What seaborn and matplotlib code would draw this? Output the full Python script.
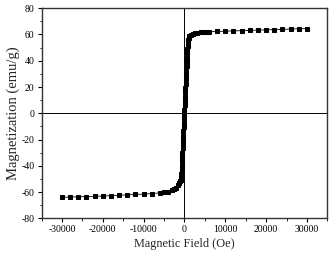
import numpy as np
import pandas as pd
import matplotlib
matplotlib.use("Agg")
import matplotlib.pyplot as plt
from matplotlib.ticker import MultipleLocator
import seaborn as sns

# hysteresis loop (field in Oe, magnetization in emu/g)
field_neg = [-30000, -28000, -26000, -24000, -22000, -20000, -18000, -16000,
             -14000, -12000, -10000, -8000, -6000, -5000, -4000, -3000, -2500,
             -2000, -1600, -1300, -1100, -950, -850]
mag_neg = [-64.0, -63.8, -63.6, -63.4, -63.2, -63.0, -62.7, -62.4,
           -62.1, -61.8, -61.5, -61.1, -60.6, -60.2, -59.6, -58.6, -57.8,
           -56.6, -54.6, -53.0, -51.8, -51.0, -50.3]

field_mid = [-800, -750, -700, -650, -600, -550, -500, -450, -400, -350, -300,
             -250, -200, -150, -100, -50, 0, 50, 100, 150, 200, 250, 300, 350,
             400, 450, 500, 550, 600, 650, 700]
mag_mid = [-49.5, -46.3, -43.0, -39.8, -36.5, -33.3, -30.0, -26.8, -23.5,
           -20.3, -17.0, -13.7, -10.4, -7.1, -3.8, -0.5, 2.8, 6.1, 9.4, 12.7,
           16.0, 19.3, 22.6, 25.9, 29.2, 32.5, 35.8, 39.1, 42.4, 45.7, 49.0]

field_pos = [750, 800, 900, 1000, 1200, 1500, 2000, 2500, 3000, 4000, 5000,
             6000, 8000, 10000, 12000, 14000, 16000, 18000, 20000, 22000,
             24000, 26000, 28000, 30000]
mag_pos = [51.5, 53.5, 55.8, 57.4, 58.9, 59.8, 60.5, 60.9, 61.2, 61.6, 61.8,
           62.0, 62.3, 62.5, 62.7, 62.9, 63.1, 63.3, 63.5, 63.7,
           63.9, 64.1, 64.3, 64.5]

df = pd.DataFrame({
    "field": field_neg + field_mid + field_pos,
    "mag": mag_neg + mag_mid + mag_pos,
})

sns.set_style("ticks")
plt.rcParams["font.family"] = ["Liberation Serif", "DejaVu Serif"]
plt.rcParams["axes.unicode_minus"] = False

fig = plt.figure(figsize=(3.3, 2.56), dpi=100)
ax = fig.add_axes([0.126, 0.147, 0.866, 0.821])

ax.axhline(0, color="black", lw=0.7, zorder=1)
ax.axvline(0, color="black", lw=0.7, zorder=1)

sns.lineplot(data=df, x="field", y="mag", ax=ax, sort=False,
             color="black", lw=0.6, marker="s", markersize=3.1,
             markeredgecolor="black", zorder=3)

ax.set_xlim(-35000, 35000)
ax.set_ylim(-80, 80)
ax.xaxis.set_major_locator(MultipleLocator(10000))
ax.xaxis.set_minor_locator(MultipleLocator(5000))
ax.yaxis.set_major_locator(MultipleLocator(20))
ax.yaxis.set_minor_locator(MultipleLocator(10))
ax.set_xticks([-30000, -20000, -10000, 0, 10000, 20000, 30000])

ax.tick_params(which="major", direction="out", length=3, width=0.8,
               labelsize=7, pad=2, colors="black")
ax.tick_params(which="minor", direction="out", length=1.8, width=0.7)

for s in ax.spines.values():
    s.set_color("#333333")
    s.set_linewidth(1.0)

ax.set_xlabel("Magnetic Field (Oe)", fontsize=8.8, labelpad=3)
ax.set_ylabel("Magnetization (emu/g)", fontsize=10.5, labelpad=1)

fig.savefig("out.png", dpi=100)
